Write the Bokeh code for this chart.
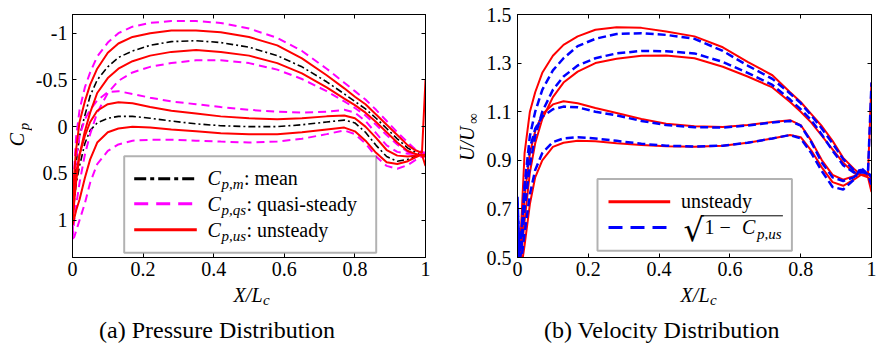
import math
from bokeh.plotting import figure
from bokeh.models import Label, BoxAnnotation, Arrow, LinearAxis, FixedTicker, Range1d
from bokeh.layouts import row, column
from bokeh.embed import file_html
from bokeh.resources import INLINE

# ---------------- data ----------------
X_STATIONS = [0, 0.005, 0.01, 0.02, 0.035, 0.05, 0.07, 0.1, 0.13, 0.17, 0.22, 0.28, 0.35, 0.42,
              0.5, 0.58, 0.65, 0.72, 0.77, 0.8, 0.83, 0.86, 0.89, 0.92, 0.95, 0.97, 0.99, 1.0]

# (a) pressure coefficient
CP_MEAN_UPPER = [1.0, 0.65, 0.4, 0.1, -0.12, -0.33, -0.5, -0.64, -0.74, -0.81, -0.87, -0.91, -0.92, -0.90,
                 -0.85, -0.76, -0.64, -0.48, -0.35, -0.27, -0.19, -0.09, 0.02, 0.13, 0.23, 0.27, 0.30, 0.30]
CP_MEAN_LOWER = [1.0, 0.8, 0.62, 0.42, 0.18, 0.04, -0.04, -0.09, -0.11, -0.11, -0.09, -0.06, -0.03, -0.01,
                 0.0, 0.0, -0.02, -0.05, -0.07, -0.04, 0.06, 0.2, 0.32, 0.37, 0.35, 0.32, 0.30, 0.30]
CP_QS_UPPER_MAX = [1.15, 0.45, 0.12, -0.18, -0.42, -0.58, -0.75, -0.9, -1.0, -1.07, -1.11, -1.13, -1.13, -1.11,
                   -1.05, -0.95, -0.81, -0.62, -0.47, -0.38, -0.29, -0.18, -0.06, 0.06, 0.17, 0.24, 0.27, 0.28]
CP_QS_UPPER_MIN = [1.2, 1.0, 0.85, 0.6, 0.3, 0.08, -0.15, -0.36, -0.49, -0.58, -0.64, -0.68, -0.71, -0.71,
                   -0.68, -0.61, -0.51, -0.38, -0.27, -0.2, -0.12, -0.02, 0.09, 0.19, 0.27, 0.3, 0.31, 0.31]
CP_US_UPPER_MAX = [0.95, 0.5, 0.25, -0.05, -0.27, -0.45, -0.62, -0.79, -0.89, -0.96, -1.0, -1.03, -1.03, -1.01,
                   -0.96, -0.87, -0.73, -0.55, -0.41, -0.32, -0.24, -0.13, -0.02, 0.09, 0.2, 0.25, 0.28, -0.5]
CP_US_UPPER_MIN = [1.05, 0.8, 0.6, 0.3, 0.05, -0.15, -0.36, -0.52, -0.62, -0.70, -0.76, -0.80, -0.82, -0.80,
                   -0.76, -0.68, -0.57, -0.42, -0.30, -0.23, -0.15, -0.05, 0.06, 0.17, 0.26, 0.29, 0.31, 0.32]
CP_QS_LOWER_MAX = [1.15, 0.6, 0.35, 0.1, -0.08, -0.18, -0.28, -0.37, -0.38, -0.35, -0.31, -0.27, -0.24, -0.21,
                   -0.18, -0.16, -0.15, -0.16, -0.18, -0.15, -0.06, 0.07, 0.2, 0.27, 0.29, 0.29, 0.29, 0.29]
CP_US_LOWER_MAX = [1.0, 0.72, 0.5, 0.3, 0.1, -0.05, -0.17, -0.24, -0.26, -0.25, -0.21, -0.17, -0.14, -0.11,
                   -0.09, -0.08, -0.09, -0.11, -0.12, -0.09, 0.0, 0.12, 0.25, 0.31, 0.32, 0.31, 0.3, 0.3]
CP_US_LOWER_MIN = [1.05, 0.98, 0.9, 0.78, 0.55, 0.35, 0.17, 0.06, 0.02, 0.0, 0.01, 0.03, 0.05, 0.07,
                   0.08, 0.08, 0.06, 0.03, 0.01, 0.05, 0.15, 0.28, 0.38, 0.40, 0.37, 0.33, 0.3, 0.42]
CP_QS_LOWER_MIN = [1.2, 1.18, 1.12, 1.0, 0.82, 0.6, 0.4, 0.26, 0.19, 0.15, 0.14, 0.14, 0.15, 0.16,
                   0.17, 0.16, 0.13, 0.08, 0.04, 0.08, 0.18, 0.32, 0.42, 0.45, 0.41, 0.36, 0.32, 0.32]

# (b) velocity ratio
U_US_UPPER_MAX = [0.7, 0.5, 0.62, 0.93, 1.10, 1.18, 1.26, 1.33, 1.375, 1.41, 1.437, 1.448, 1.445, 1.43,
                  1.41, 1.365, 1.305, 1.25, 1.18, 1.14, 1.09, 1.04, 0.98, 0.91, 0.865, 0.84, 0.84, 1.22]
U_SQ_UPPER_MAX = [0.75, 0.52, 0.55, 0.8, 1.0, 1.1, 1.19, 1.27, 1.32, 1.37, 1.40, 1.42, 1.423, 1.416,
                  1.40, 1.35, 1.29, 1.235, 1.175, 1.135, 1.085, 1.03, 0.97, 0.905, 0.86, 0.85, 0.85, 1.22]
U_US_UPPER_MIN = [0.7, 0.45, 0.5, 0.65, 0.85, 0.97, 1.07, 1.16, 1.22, 1.265, 1.30, 1.318, 1.33, 1.331,
                  1.32, 1.285, 1.245, 1.20, 1.14, 1.10, 1.055, 1.0, 0.945, 0.89, 0.85, 0.84, 0.84, 0.84]
U_SQ_UPPER_MIN = [0.72, 0.48, 0.52, 0.7, 0.88, 1.0, 1.1, 1.19, 1.245, 1.29, 1.32, 1.34, 1.35, 1.349,
                  1.34, 1.305, 1.26, 1.21, 1.15, 1.11, 1.065, 1.005, 0.94, 0.88, 0.85, 0.86, 0.84, 0.84]
U_US_LOWER_MAX = [0.7, 0.46, 0.55, 0.75, 0.93, 1.02, 1.09, 1.13, 1.143, 1.135, 1.115, 1.095, 1.07, 1.05,
                  1.04, 1.037, 1.045, 1.058, 1.065, 1.045, 0.98, 0.9, 0.84, 0.82, 0.835, 0.85, 0.85, 0.82]
U_SQ_LOWER_MAX = [0.72, 0.5, 0.58, 0.78, 0.95, 1.03, 1.08, 1.11, 1.121, 1.118, 1.10, 1.085, 1.062, 1.045,
                  1.036, 1.035, 1.043, 1.056, 1.062, 1.043, 0.975, 0.89, 0.83, 0.815, 0.83, 0.86, 0.85, 0.83]
U_US_LOWER_MIN = [0.65, 0.45, 0.45, 0.55, 0.72, 0.83, 0.9, 0.955, 0.972, 0.98, 0.978, 0.97, 0.963, 0.958,
                  0.956, 0.96, 0.972, 0.99, 1.004, 0.995, 0.94, 0.87, 0.81, 0.795, 0.82, 0.84, 0.83, 0.77]
U_SQ_LOWER_MIN = [0.68, 0.45, 0.48, 0.6, 0.76, 0.86, 0.93, 0.975, 0.99, 0.995, 0.99, 0.98, 0.968, 0.96,
                  0.957, 0.96, 0.972, 0.99, 1.004, 0.99, 0.93, 0.855, 0.79, 0.78, 0.82, 0.87, 0.84, 0.80]

X_TICKS = [0, 0.2, 0.4, 0.6, 0.8, 1]
X_TICK_LABELS = ["0", "0.2", "0.4", "0.6", "0.8", "1"]
CP_TICKS = [-1, -0.5, 0, 0.5, 1]
CP_TICK_LABELS = ["-1", "-0.5", "0", "0.5", "1"]
U_TICKS = [0.5, 0.7, 0.9, 1.1, 1.3, 1.5]
U_TICK_LABELS = ["0.5", "0.7", "0.9", "1.1", "1.3", "1.5"]

FONT = "Liberation Serif"
RED, MAGENTA, BLUE, BLACK = "#ff0000", "#ff00ff", "#0000ff", "#000000"
H_TOTAL = 343
H_PLOT = 283
H_STRIP = H_TOTAL - H_PLOT
BASE_SHIFT = 0.34  # baseline correction (fraction of font size)


def make_fig(width, left_border, right_border, y_range, xticks, xlabels, yticks, ylabels, ystandoff):
    p = figure(width=width, height=H_PLOT, x_range=Range1d(0, 1), y_range=y_range,
               output_backend="svg", toolbar_location=None,
               min_border_left=left_border, min_border_right=right_border,
               min_border_top=14, min_border_bottom=26)
    p.background_fill_color = "white"
    p.border_fill_color = "white"
    p.outline_line_color = "black"
    p.outline_line_width = 1
    p.xgrid.visible = False
    p.ygrid.visible = False
    for ax, ticks, labels, so in ((p.xaxis[0], xticks, xlabels, 4), (p.yaxis[0], yticks, ylabels, ystandoff)):
        ax.ticker = FixedTicker(ticks=ticks)
        ax.major_label_overrides = dict(zip(ticks, labels))
        ax.major_label_text_font = FONT
        ax.major_label_text_font_size = "20px"
        ax.major_label_text_color = "black"
        ax.major_label_standoff = so
        ax.major_tick_in = 4
        ax.major_tick_out = 0
        ax.minor_tick_line_color = None
        ax.axis_line_color = "black"
        ax.major_tick_line_color = "black"
    # box ticks on the top and right edges (no labels drawn there)
    for loc, ticks in (("above", xticks), ("right", yticks)):
        ax = LinearAxis(ticker=FixedTicker(ticks=ticks), major_label_text_font_size="1px",
                        major_label_text_color=None,
                        major_label_standoff=0, major_tick_in=4, major_tick_out=0,
                        minor_tick_line_color=None, axis_line_color="black",
                        major_tick_line_color="black")
        p.add_layout(ax, loc)
    return p


def make_strip(width, height):
    s = figure(width=width, height=height, x_range=Range1d(0, 1), y_range=Range1d(0, 1),
               x_axis_location=None, y_axis_location=None, min_border=0,
               toolbar_location=None, output_backend="svg", outline_line_color=None)
    s.xgrid.visible = False
    s.ygrid.visible = False
    s.background_fill_color = "white"
    s.border_fill_color = "white"
    return s


def txt(p, x, y, s, size=20, style="normal", align="left", baseline="alphabetic", angle=0.0, font=FONT):
    if baseline == "alphabetic":
        y = y + BASE_SHIFT * size
    p.add_layout(Label(x=x, y=y, x_units="screen", y_units="screen", text=s,
                       text_font=font, text_font_size=f"{size}px", text_font_style=style,
                       text_align=align, text_baseline=baseline, angle=angle,
                       text_color="black"))


def seg(p, x0, y0, x1, y1, color, width, dash="solid"):
    p.add_layout(Arrow(x_start=x0, y_start=y0, x_end=x1, y_end=y1,
                       start_units="screen", end_units="screen", end=None, start=None,
                       line_color=color, line_width=width, line_dash=dash))


# ---------------- (a) pressure distribution ----------------
p1 = make_fig(408, 37, 15, Range1d(1.4, -1.2), X_TICKS, X_TICK_LABELS, CP_TICKS, CP_TICK_LABELS, 5)

DASHDOT = "7 3 2 3"
DASH = "8 5"
for ys in (CP_MEAN_UPPER, CP_MEAN_LOWER):
    p1.line(X_STATIONS, ys, line_color=BLACK, line_width=1.6, line_dash=DASHDOT)
for ys in (CP_QS_UPPER_MAX, CP_QS_UPPER_MIN, CP_QS_LOWER_MAX, CP_QS_LOWER_MIN):
    p1.line(X_STATIONS, ys, line_color=MAGENTA, line_width=2, line_dash=DASH)
for ys in (CP_US_UPPER_MAX, CP_US_UPPER_MIN, CP_US_LOWER_MAX, CP_US_LOWER_MIN):
    p1.line(X_STATIONS, ys, line_color=RED, line_width=2)

# legend (a)
p1.add_layout(BoxAnnotation(left=51.7, right=303.7, bottom=4.7, top=101.3,
                            left_units="screen", right_units="screen",
                            bottom_units="screen", top_units="screen",
                            fill_color="white", fill_alpha=1.0, line_color="black", line_width=2))
seg(p1, 61.7, 78.7, 124.3, 78.7, BLACK, 3, "12 4 4 4")
seg(p1, 61.7, 53.7, 124.3, 53.7, MAGENTA, 3, "14 8")
seg(p1, 61.7, 27.7, 124.3, 27.7, RED, 3)
for yb, sub, rest, xr in ((73, "p,m", ": mean", 171.5),
                          (47, "p,qs", ": quasi-steady", 174),
                          (21, "p,us", ": unsteady", 174)):
    txt(p1, 135, yb, "C", 20, "italic")
    txt(p1, 149, yb - 5, sub, 15, "italic")
    txt(p1, xr, yb, rest, 20)

left1 = make_strip(32, H_TOTAL)
txt(left1, 16, 204, "C", 20, "italic", "center", "middle", math.pi / 2)
txt(left1, 23, 217, "p", 15, "italic", "center", "middle", math.pi / 2)

# bottom strip: its frame is aligned with p1's frame by the column layout
bottom1 = make_strip(408, H_STRIP)
txt(bottom1, 190, 42, "X/L", 20, "italic", "right")
txt(bottom1, 190.5, 38, "c", 15, "italic", "left")
txt(bottom1, 144.5, 5, "(a) Pressure Distribution", 24, "normal", "center")

# ---------------- (b) velocity distribution ----------------
p2 = make_fig(395, 35, 6, Range1d(0.5, 1.5), X_TICKS, X_TICK_LABELS, U_TICKS, U_TICK_LABELS, 6)

for ys in (U_US_UPPER_MAX, U_US_UPPER_MIN, U_US_LOWER_MAX, U_US_LOWER_MIN):
    p2.line(X_STATIONS, ys, line_color=RED, line_width=2)
for ys in (U_SQ_UPPER_MAX, U_SQ_UPPER_MIN, U_SQ_LOWER_MAX, U_SQ_LOWER_MIN):
    p2.line(X_STATIONS, ys, line_color=BLUE, line_width=2.5, line_dash="8 4")

# legend (b)
p2.add_layout(BoxAnnotation(left=80, right=274.4, bottom=6.7, top=78.4,
                            left_units="screen", right_units="screen",
                            bottom_units="screen", top_units="screen",
                            fill_color="white", fill_alpha=1.0, line_color="black", line_width=2))
seg(p2, 91, 55.7, 152.7, 55.7, RED, 3)
seg(p2, 91, 30, 152.7, 30, BLUE, 3, "14 8")
txt(p2, 163.4, 50, "unsteady", 20)
txt(p2, 166, 16.5, "\u221a", 32, font="DejaVu Sans")
seg(p2, 184, 41.7, 265.4, 41.7, BLACK, 1)
txt(p2, 187, 23.4, "1", 20)
txt(p2, 207.7, 23.4, "\u2212", 20, "normal", "center")
txt(p2, 224.4, 23.4, "C", 20, "italic")
txt(p2, 239.4, 18.5, "p,us", 15, "italic")

left2 = make_strip(42, H_TOTAL)
txt(left2, 26.7, 199.7, "U/U", 20, "italic", "center", "middle", math.pi / 2)
txt(left2, 32, 225, "\u221e", 15, "normal", "center", "middle", math.pi / 2)

bottom2 = make_strip(395, H_STRIP)
txt(bottom2, 192, 42, "X/L", 20, "italic", "right")
txt(bottom2, 192.5, 38, "c", 15, "italic", "left")
txt(bottom2, 144.5, 5, "(b) Velocity Distribution", 24, "normal", "center")

layout = row(left1, column(p1, bottom1), left2, column(p2, bottom2))
open("out.html", "w").write(file_html(layout, INLINE))
